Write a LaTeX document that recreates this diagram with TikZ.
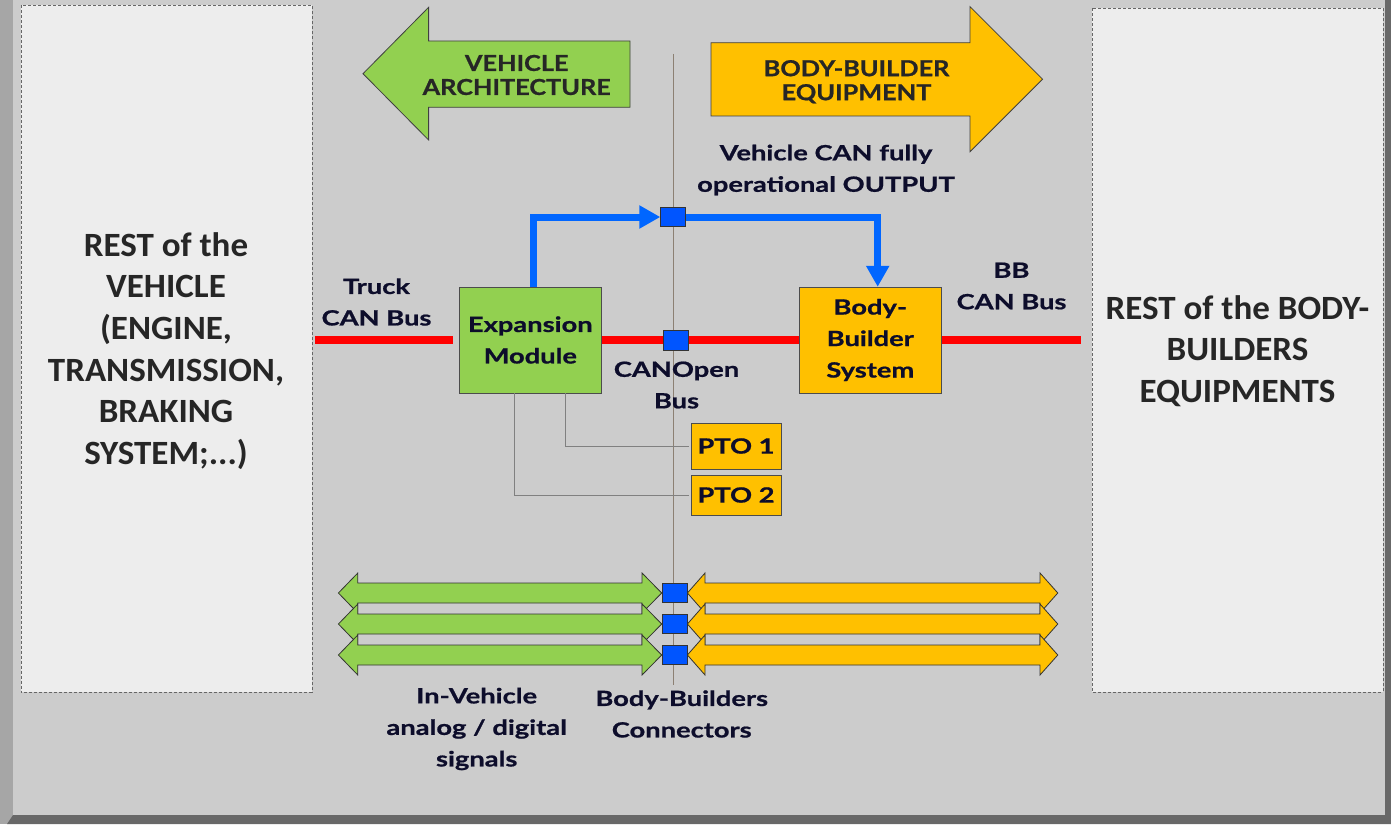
\documentclass[tikz,border=0pt]{standalone}
\usepackage{fontspec}
\setmainfont{Lato}[FakeStretch=1.3,BoldFeatures={FakeBold=0.8}]
\newfontfamily\capsfont{Lato}[FakeStretch=1.15,BoldFeatures={FakeBold=0.8}]
\newfontfamily\restfont{Carlito}[FakeStretch=1.03]
\usetikzlibrary{arrows.meta}

\definecolor{slidebg}{HTML}{CCCCCC}
\definecolor{frameside}{HTML}{A6A6A6}
\definecolor{framedark}{HTML}{686868}
\definecolor{panelgray}{HTML}{EDEDED}
\definecolor{vgreen}{HTML}{92D050}
\definecolor{bborange}{HTML}{FFC000}
\definecolor{canblue}{HTML}{0066FF}
\definecolor{sqblue}{HTML}{0055FF}
\definecolor{navy}{HTML}{0D0D2B}
\definecolor{ink}{HTML}{262626}

\begin{document}
\begin{tikzpicture}[x=1pt,y=-1pt,
  restbox/.style={draw=gray!80!black,dash pattern=on 3pt off 2pt,fill=panelgray},
  resttext/.style={align=center,text=ink,font=\restfont\bfseries\fontsize{34}{41.7}\selectfont},
  lbl/.style={align=center,text=navy,font=\bfseries\fontsize{21}{31.5}\selectfont},
  headtext/.style={align=center,text=ink,font=\capsfont\bfseries\fontsize{22}{24}\selectfont},
  bigarrow/.style={draw=gray!50!black,line width=0.8pt},
  unit/.style={lbl,draw=gray!60!black,minimum width=142.7pt,minimum height=106pt,inner sep=0pt},
  pto/.style={lbl,draw=gray!60!black,fill=bborange,minimum width=90pt,inner sep=0pt},
  conn/.style={draw=gray!40!black,fill=sqblue,minimum width=25pt,minimum height=19pt,inner sep=0pt},
  bus/.style={draw=red,line width=8.5pt},
  canout/.style={draw=canblue,line width=7pt,-{Triangle[length=21pt,width=22pt]}},
  wire/.style={draw=gray,line width=1pt},
  sig/.style={draw=gray!40!black,line width=0.8pt}
]
  \useasboundingbox (0,0) rectangle (1391,824);
  \fill[slidebg] (0,0) rectangle (1391,824);
  \fill[frameside] (0,0) rectangle (13,824);
  \fill[framedark] (13,815) -- (1391,815) -- (1391,824) -- (7,824) -- cycle;
  \fill[framedark] (1385,0) rectangle (1391,824);

  \draw[restbox] (20.7,5.5) rectangle (311.7,692);
  \draw[restbox] (1092,8.3) rectangle (1382.7,692);
  \node[resttext] (restveh) at (166,351)
    {REST of the\\VEHICLE\\(ENGINE,\\TRANSMISSION,\\BRAKING\\SYSTEM;...)};
  \node[resttext] (restbb) at (1237.5,351)
    {REST of the BODY-\\BUILDERS\\EQUIPMENTS};

  \draw[draw=gray!80!brown,line width=1pt] (673,54) -- (673,685);

  \draw[bigarrow,fill=vgreen] (630,41) -- (428.6,41) -- (428.6,7.3) -- (363,73.7)
    -- (428.6,140) -- (428.6,107.3) -- (630,107.3) -- cycle;
  \node[headtext] (vehtitle) at (516.7,75) {VEHICLE\\ARCHITECTURE};
  \draw[bigarrow,fill=bborange] (711,42.7) -- (970,42.7) -- (970,6.7) -- (1042.5,79.2)
    -- (970,151.7) -- (970,116) -- (711,116) -- cycle;
  \node[headtext] (bbtitle) at (856.5,81.7) {BODY-BUILDER\\EQUIPMENT};

  \node[unit,fill=vgreen] (expmod) at (530.3,340) {Expansion\\Module};
  \node[unit,fill=bborange] (bbs) at (870.3,340) {Body-\\Builder\\System};
  \coordinate (truckbus) at (315,340);
  \coordinate (bbbus) at (1081,340);
  \draw[bus] (truckbus) -- ([xshift=-6pt]expmod.west);
  \draw[bus] (expmod.east) -- (bbs.west);
  \draw[bus] (bbs.east) -- (bbbus);
  \node[conn,minimum height=20pt] (canosq) at (676,340) {};

  \node[conn] (outsq) at (673,217) {};
  \draw[canout] ([xshift=2.7pt]expmod.north) |- (outsq.west);
  \draw[canout] (outsq.east) -| ([xshift=7.4pt]bbs.north);

  \node[lbl] (trucklbl) at (376.5,302) {Truck\\CAN Bus};
  \node[lbl] (bblbl) at (1011.5,286) {BB\\CAN Bus};
  \node[lbl] (canolbl) at (676.5,385) {CANOpen\\Bus};
  \node[lbl] (outlbl) at (826,170) {Vehicle CAN fully\\operational OUTPUT};

  \node[pto,minimum height=46pt] (pto1) at (736,446) {PTO 1};
  \node[pto,minimum height=40pt] (pto2) at (736,495) {PTO 2};
  \draw[wire,shorten >=2pt] ([xshift=35pt]expmod.south) |- (pto1.west);
  \draw[wire,shorten >=2pt] ([xshift=-16pt]expmod.south) |- (pto2.west);

  \foreach \y/\i in {593/1,624/2,655/3} {
    \draw[sig,fill=vgreen] (338.4,\y) -- (357.8,\y-20) -- (357.8,\y-10) -- (642,\y-10)
      -- (642,\y-20) -- (661.7,\y) -- (642,\y+20) -- (642,\y+10) -- (357.8,\y+10)
      -- (357.8,\y+20) -- cycle;
    \draw[sig,fill=bborange] (687.4,\y) -- (705,\y-20) -- (705,\y-10) -- (1040,\y-10)
      -- (1040,\y-20) -- (1057.8,\y) -- (1040,\y+20) -- (1040,\y+10) -- (705,\y+10)
      -- (705,\y+20) -- cycle;
    \node[conn] (bbc\i) at (674.3,\y) {};
  }

  \node[lbl] (siglbl) at (476.7,729) {In-Vehicle\\analog / digital\\signals};
  \node[lbl] (bbclbl) at (681.7,714) {Body-Builders\\Connectors};
\end{tikzpicture}
\end{document}
